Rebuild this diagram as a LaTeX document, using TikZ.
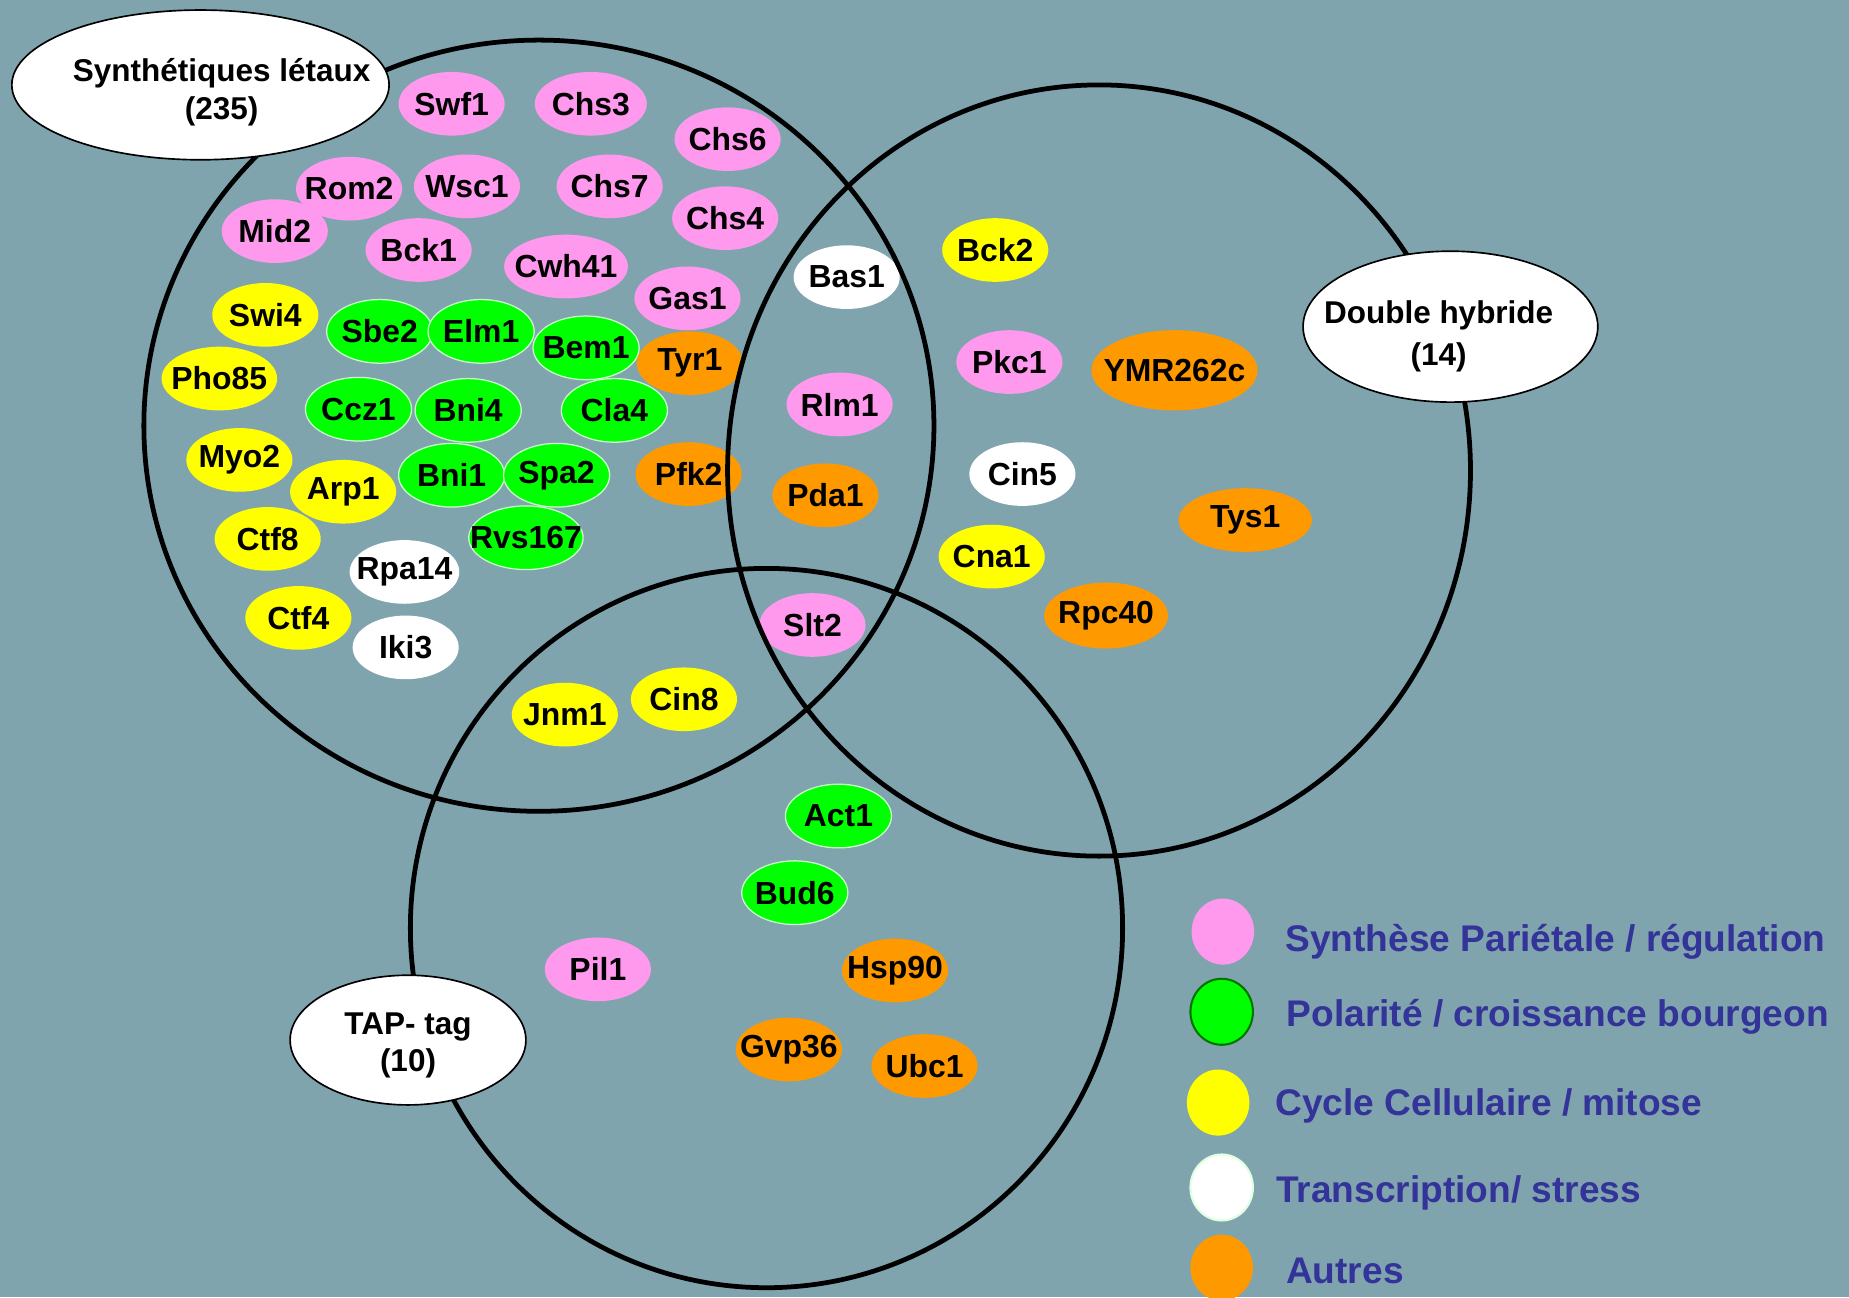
\documentclass[tikz,border=0pt]{standalone}
\usepackage{fontspec}
\setmainfont{Liberation Sans}
\usetikzlibrary{positioning,shapes.geometric}
\definecolor{bgcol}{RGB}{128,164,174}
\definecolor{genepink}{RGB}{255,153,238}
\definecolor{genegreen}{RGB}{0,255,0}
\definecolor{geneyellow}{RGB}{255,255,0}
\definecolor{geneorange}{RGB}{255,153,0}
\definecolor{legblue}{RGB}{51,51,153}
\tikzset{
  gene/.style={ellipse, minimum width=1.8cm, minimum height=1.08cm, inner xsep=-1cm, inner ysep=0pt, font=\fontsize{15.4}{17}\selectfont\bfseries},
  pinkgene/.style={gene, fill=genepink},
  greengene/.style={gene, fill=genegreen, draw=green!20!white, line width=0.6pt},
  yellowgene/.style={gene, fill=geneyellow},
  whitegene/.style={gene, fill=white},
  orangegene/.style={gene, fill=geneorange},
  venn/.style={line width=2.3pt},
  tagbox/.style={draw, ellipse, fill=white, line width=0.8pt, align=center, inner xsep=-2.5cm, inner ysep=0pt, font=\fontsize{15.2}{18.2}\selectfont\bfseries},
  legdot/.style={ellipse, minimum width=1.06cm, minimum height=1.12cm, inner sep=0pt},
  legtext/.style={inner sep=0pt, text=legblue, font=\fontsize{17.9}{21}\selectfont\bfseries}
}

\begin{document}
\begin{tikzpicture}[x=0.02cm, y=-0.02cm]
  \useasboundingbox (0,0) rectangle (1568,1100);
  \fill[bgcol] (0,0) rectangle (1568,1100);

  % paroi / regulation
  \node[pinkgene] (swf1) at (383,88) {Swf1};
  \node[pinkgene, minimum width=1.9cm] (chs3) at (501,88) {Chs3};
  \node[pinkgene] (chs6) at (617,118) {Chs6};
  \node[pinkgene] (rom2) at (296,160) {Rom2};
  \node[pinkgene] (wsc1) at (396,158) {Wsc1};
  \node[pinkgene] (chs7) at (517,158) {Chs7};
  \node[pinkgene] (chs4) at (615,185) {Chs4};
  \node[pinkgene] (mid2) at (233,196) {Mid2};
  \node[pinkgene] (bck1) at (355,212) {Bck1};
  \node[pinkgene, minimum width=2.1cm] (cwh41) at (480,226) {Cwh41};
  \node[pinkgene] (gas1) at (583,253) {Gas1};
  \node[pinkgene] (rlm1) at (712,343) {Rlm1};
  \node[pinkgene] (pkc1) at (856,307) {Pkc1};
  \node[pinkgene] (slt2) at (689,530) {Slt2};
  \node[pinkgene] (pil1) at (507,822) {Pil1};

  % polarite
  \node[greengene] (sbe2) at (322,281) {Sbe2};
  \node[greengene] (elm1) at (408,281) {Elm1};
  \node[greengene] (bem1) at (497,295) {Bem1};
  \node[greengene] (ccz1) at (304,347) {Ccz1};
  \node[greengene] (bni4) at (397,348) {Bni4};
  \node[greengene] (cla4) at (521,348) {Cla4};
  \node[greengene] (bni1) at (383,403) {Bni1};
  \node[greengene] (spa2) at (472,403) {Spa2};
  \node[greengene, minimum width=1.94cm] (rvs167) at (446,456) {Rvs167};
  \node[greengene] (act1) at (711,692) {Act1};
  \node[greengene] (bud6) at (674,757) {Bud6};

  % cycle cellulaire
  \node[yellowgene] (swi4) at (225,267) {Swi4};
  \node[yellowgene, minimum width=1.96cm] (pho85) at (186,321) {Pho85};
  \node[yellowgene] (myo2) at (203,390) {Myo2};
  \node[yellowgene] (arp1) at (291,417) {Arp1};
  \node[yellowgene] (ctf8) at (227,457) {Ctf8};
  \node[yellowgene] (ctf4) at (253,524) {Ctf4};
  \node[yellowgene] (jnm1) at (479,606) {Jnm1};
  \node[yellowgene] (cin8) at (580,593) {Cin8};
  \node[yellowgene] (bck2) at (844,212) {Bck2};
  \node[yellowgene] (cna1) at (841,472) {Cna1};

  % transcription
  \node[whitegene] (bas1) at (718,235) {Bas1};
  \node[whitegene, minimum width=1.86cm] (rpa14) at (343,485) {Rpa14};
  \node[whitegene] (iki3) at (344,549) {Iki3};
  \node[whitegene] (cin5) at (867,402) {Cin5};

  % autres
  \node[orangegene] (tyr1) at (585,308) {Tyr1};
  \node[orangegene] (pfk2) at (584,402) {Pfk2};
  \node[orangegene] (pda1) at (700,420) {Pda1};
  \node[orangegene, minimum width=2.82cm, minimum height=1.36cm] (ymr262c) at (996,314) {YMR262c};
  \node[orangegene, minimum width=2.26cm] (tys1) at (1056,441) {Tys1};
  \node[orangegene, minimum width=2.1cm, minimum height=1.12cm] (rpc40) at (938,522) {Rpc40};
  \node[orangegene] (hsp90) at (759,823) {Hsp90};
  \node[orangegene] (gvp36) at (669,890) {Gvp36};
  \node[orangegene] (ubc1) at (784,904) {Ubc1};

  % les trois cribles
  \draw[venn] (457,361) ellipse [x radius=335, y radius=327];
  \draw[venn] (932,399) ellipse [x radius=315, y radius=327];
  \draw[venn] (650,787) ellipse [x radius=302, y radius=305];

  \node[tagbox, minimum width=6.4cm, minimum height=2.54cm] (synlab) at (170,72)
    {\rule{0pt}{0.64cm}\hspace*{0.72cm}Synthétiques létaux\\\hspace*{0.72cm}(235)};
  \node[tagbox, minimum width=5cm, minimum height=2.56cm] (dhlab) at (1230,277)
    {\rule{0pt}{0.71cm}Double hybride\hspace*{0.4cm}\\[0.08cm](14)\hspace*{0.4cm}};
  \node[tagbox, minimum width=4cm, minimum height=2.2cm] (taplab) at (346,882)
    {\rule{0pt}{0.55cm}TAP- tag\\(10)};

  % legende
  \node[legdot, fill=genepink] (dotpink) at (1037,790) {};
  \node[legtext, right=0.52cm of dotpink, yshift=-0.18cm] (txtpink) {Synthèse Pariétale / régulation};
  \node[legdot, fill=genegreen, draw=green!45!black, line width=1pt] (dotgreen) at (1036,858) {};
  \node[legtext, right=0.55cm of dotgreen, yshift=-0.08cm] (txtgreen) {Polarité / croissance bourgeon};
  \node[legdot, fill=geneyellow] (dotyellow) at (1033,935) {};
  \node[legtext, right=0.43cm of dotyellow, yshift=-0.06cm] (txtyellow) {Cycle Cellulaire / mitose};
  \node[legdot, fill=white, draw=green!12!white, line width=1pt] (dotwhite) at (1036,1007) {};
  \node[legtext, right=0.37cm of dotwhite, yshift=-0.1cm] (txtwhite) {Transcription/ stress};
  \node[legdot, fill=geneorange] (dotorange) at (1036,1075) {};
  \node[legtext, right=0.55cm of dotorange, yshift=-0.05cm] (txtorange) {Autres};
\end{tikzpicture}
\end{document}
